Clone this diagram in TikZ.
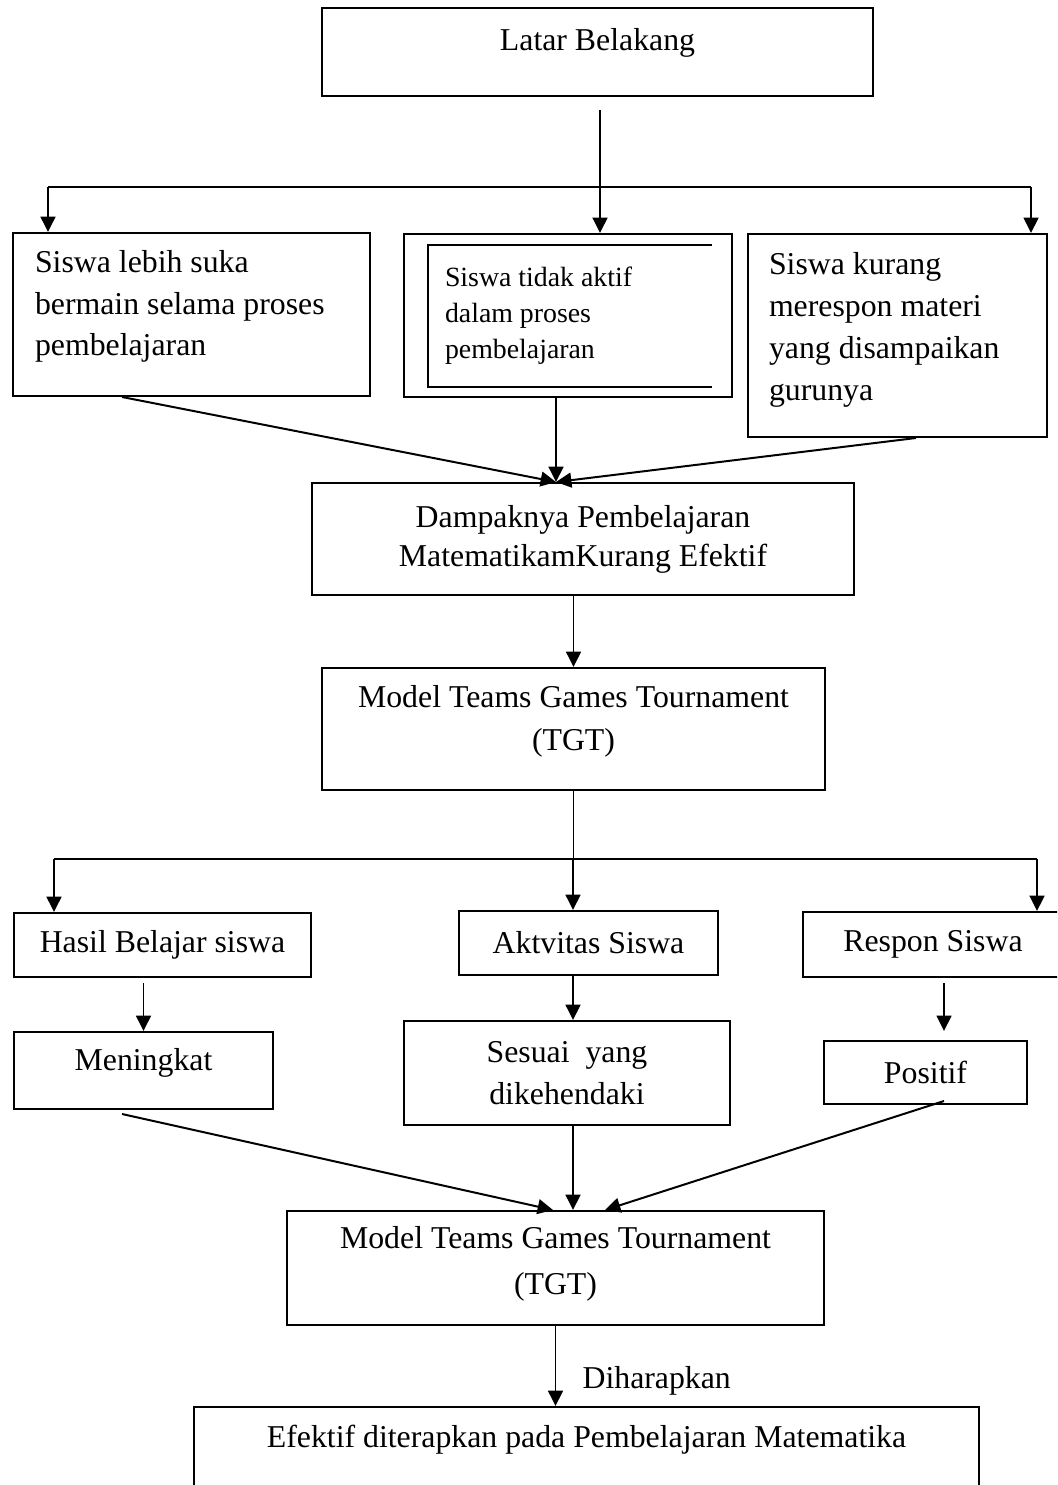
\documentclass[tikz,border=0pt]{standalone}
\usepackage{fontspec}
\setmainfont{Liberation Serif}
\usetikzlibrary{arrows.meta,calc,positioning}
\newcommand\pxu{0.3774pt}

\begin{document}
\begin{tikzpicture}[x=\pxu,y=-\pxu,
  box/.style 2 args={draw, line width=0.75pt, minimum width=#1*\pxu, minimum height=#2*\pxu, font=\fontsize{12}{15.8}\selectfont},
  arr/.style={line width=0.75pt, -{Triangle[width=5.6pt,length=5.8pt]}},
  thinline/.style={line width=0.55pt}]
\useasboundingbox (0,0) rectangle (1057,1485);
\clip (0,0) rectangle (1057,1485);

\node[box={551}{88}, text depth=9.7pt] (latar) at (597.5,52) {Latar Belakang};

\node[box={357}{163}, text width=313*\pxu, align=flush left, text depth=40.3pt] (siswaA) at (191.5,314.5) {Siswa lebih suka\\ bermain selama proses\\ pembelajaran};
\node[box={328}{163}, text width=246*\pxu, align=flush left, font=\fontsize{10.5}{13.6}\selectfont] (siswaB) at (568,315.5) {Siswa tidak aktif\\ dalam proses\\ pembelajaran};
\draw[line width=0.5pt] ($(siswaB.north east)+(-21,12)$) -- ($(siswaB.north west)+(25,12)$) -- ($(siswaB.south west)+(25,-11)$) -- ($(siswaB.south east)+(-21,-11)$);
\node[box={299}{203}, text width=257*\pxu, align=flush left, text depth=54pt] (siswaC) at (897.5,335.5) {Siswa kurang\\ merespon materi\\ yang disampaikan\\ gurunya};

\node[box={542}{112}, text width=480*\pxu, align=flush center, font=\fontsize{12}{14.7}\selectfont] (dampak) at (583,539) {Dampaknya Pembelajaran\\ MatematikamKurang Efektif};
\node[box={503}{122}, text width=460*\pxu, align=flush center, font=\fontsize{12}{16.2}\selectfont, text depth=24.8pt] (tgtA) at (573.5,729) {Model Teams Games Tournament\\ (TGT)};

\node[box={297}{64}] (hasil) at (162.5,945) {Hasil Belajar siswa};
\node[box={259}{64}] (aktivitas) at (588.5,943) {Aktvitas Siswa};
\node[box={260}{65}] (respon) at (933,944.5) {Respon Siswa};

\node[box={259}{77}, text depth=8.6pt] (meningkat) at (143.5,1070.5) {Meningkat};
\node[box={326}{104}, text width=280*\pxu, align=flush center] (sesuai) at (567,1073) {Sesuai\ \ yang\\ dikehendaki};
\node[box={203}{63}] (positif) at (925.5,1072.5) {Positif};

\node[box={537}{114}, text width=480*\pxu, align=flush center, font=\fontsize{12}{17.4}\selectfont, text depth=23.4pt] (tgtB) at (555.5,1268) {Model Teams Games Tournament\\ (TGT)};
\node[box={785}{108}, text depth=18.9pt] (efektif) at (586.5,1461) {Efektif diterapkan pada Pembelajaran Matematika};

\coordinate (forkA) at (600,187);
\coordinate (forkAl) at (48,187);
\coordinate (forkAr) at (1031,187);
\draw[thinline, shorten <=4.9pt] (latar.south -| forkA) -- (forkA);
\draw[line width=0.75pt] (forkAl) -- (forkAr);
\draw[arr] (forkAl) -- (forkAl |- siswaA.north);
\draw[arr] (forkA) -- (forkA |- siswaB.north);
\draw[arr] (forkAr) -- (forkAr |- siswaC.north);

\coordinate (inA) at ($(dampak.north)+(-27,0)$);
\draw[arr] ($(siswaA.south)+(-69.5,0)$) -- (inA);
\draw[arr] (siswaB.south -| inA) -- (inA);
\draw[arr] ($(siswaC.south)+(18.5,0)$) -- (inA);
\draw[arr] (dampak.south -| tgtA.north) -- (tgtA.north);

\coordinate (forkB) at (573,859);
\coordinate (forkBl) at (54,859);
\coordinate (forkBr) at (1037,859);
\draw[thinline] (tgtA.south) -- (tgtA.south |- forkB);
\draw[line width=0.75pt] (forkBl) -- (forkBr);
\draw[arr] (forkBl) -- (forkBl |- hasil.north);
\draw[arr] (forkB) -- (forkB |- aktivitas.north);
\draw[arr] (forkBr) -- (forkBr |- respon.north);

\coordinate (posin) at ($(positif.north)+(18.5,0)$);
\draw[arr, shorten <=2pt] (hasil.south -| meningkat.north) -- (meningkat.north);
\draw[arr] (aktivitas.south -| forkB) -- (sesuai.north -| forkB);
\draw[arr, shorten <=2pt, shorten >=3.4pt] (respon.south -| posin) -- (posin);

\draw[arr] ($(meningkat.south)+(-21.5,4)$) -- ($(tgtB.north)+(-2.5,0)$);
\draw[arr] (sesuai.south -| forkB) -- (tgtB.north -| forkB);
\draw[arr] ($(positif.south)+(18.5,-4)$) -- ($(tgtB.north)+(49.5,0)$);

\draw[arr] (tgtB.south) -- (tgtB.south |- efektif.north) node[pos=0.68, right=6.5pt, font=\fontsize{12}{15.8}\selectfont] (harap) {Diharapkan};
\end{tikzpicture}
\end{document}
